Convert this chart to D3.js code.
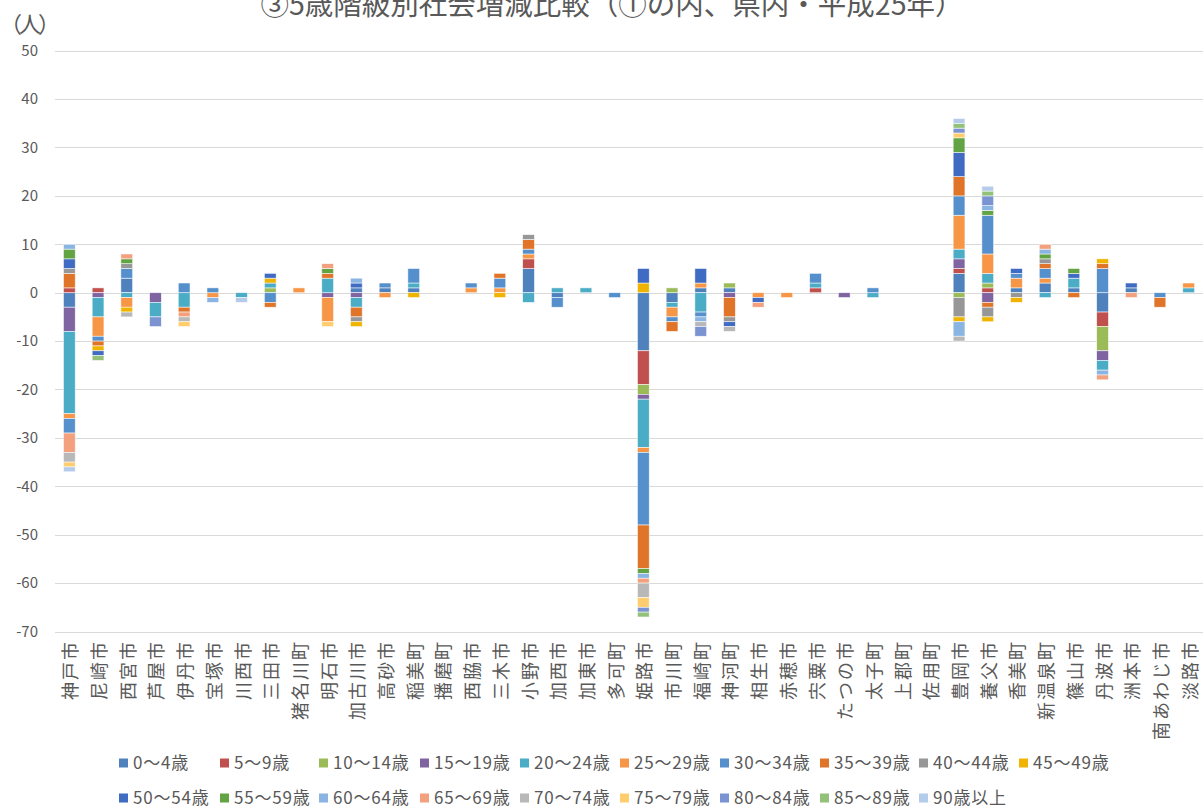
<!DOCTYPE html>
<html><head><meta charset="utf-8">
<script src="https://cdn.jsdelivr.net/npm/d3@7"></script>
<style>
html,body{margin:0;padding:0;background:#fff;}
svg text{font-family:"Noto Sans CJK JP","Noto Sans",sans-serif;fill:#595959;}
</style>
</head><body>
<svg id="chart" width="1204" height="812"></svg>
<script>
const categories = ["神戸市","尼崎市","西宮市","芦屋市","伊丹市","宝塚市","川西市","三田市","猪名川町","明石市","加古川市","高砂市","稲美町","播磨町","西脇市","三木市","小野市","加西市","加東市","多可町","姫路市","市川町","福崎町","神河町","相生市","赤穂市","宍粟市","たつの市","太子町","上郡町","佐用町","豊岡市","養父市","香美町","新温泉町","篠山市","丹波市","洲本市","南あわじ市","淡路市"];
const seriesNames = ["0～4歳","5～9歳","10～14歳","15～19歳","20～24歳","25～29歳","30～34歳","35～39歳","40～44歳","45～49歳","50～54歳","55～59歳","60～64歳","65～69歳","70～74歳","75～79歳","80～84歳","85～89歳","90歳以上"];
const seriesColors = ["#4F81BD","#C0504D","#9BBB59","#8064A2","#4BACC6","#F79646","#5590CC","#E0752A","#979797","#F0B400","#3F6BC2","#62A343","#8AB4E2","#F2A07D","#B8B8B8","#FFCD6E","#7C93D2","#93C17A","#B4CBEA"];
const yTicks = [50,40,30,20,10,0,-10,-20,-30,-40,-50,-60,-70];

const s00 = [-3,0,3,0,0,0,0,0,0,0, 1,1,1,0,0,0,5,-1,0,0, -12,-2,1,1,0,0,0,0,0,0, 0,4,0,1,2,1,-4,1,0,0];
const s05 = [1,1,0,0,0,0,0,0,0,0, 0,0,0,0,0,0,2,0,0,0, -7,0,0,0,0,0,1,0,0,0, 0,1,1,0,0,0,-3,0,0,0];
const s10 = [0,0,0,0,0,0,0,1,0,0, 0,0,0,0,0,0,0,0,0,0, -2,1,0,1,0,0,0,0,0,0, 0,-1,1,0,0,0,-5,0,0,0];
const s15 = [-5,-1,0,-2,0,0,0,0,0,-1, -1,0,0,0,0,0,0,0,0,0, -1,0,0,-1,0,0,0,-1,0,0, 0,2,-2,0,0,0,-2,0,0,0];
const s20 = [-17,-4,-1,-3,-3,0,-1,1,0,3, -2,0,1,0,0,0,-2,1,1,0, -10,-1,-4,0,0,0,1,0,-1,0, 0,2,2,0,-1,2,-2,0,0,1];
const s25 = [-1,-4,-2,0,0,-1,0,0,1,-5, 0,-1,0,0,1,1,1,0,0,0, -1,-2,1,0,-1,-1,0,0,0,0, 0,7,4,2,1,0,0,0,0,1];
const s30 = [-3,-1,2,0,2,1,0,-2,0,0, 0,1,3,0,1,2,1,-2,0,-1, -15,-1,-1,0,0,0,2,0,1,0, 0,4,8,1,2,0,5,0,-1,0];
const s35 = [3,-1,0,0,-1,0,0,-1,0,1, -2,0,0,0,0,1,2,0,0,0, -9,-2,0,-4,0,0,0,0,0,0, 0,4,-1,0,1,-1,1,0,-2,0];
const s40 = [1,0,1,0,0,0,0,0,0,0, -1,0,0,0,0,0,1,0,0,0, 0,0,0,-1,0,0,0,0,0,0, 0,-4,-2,-1,1,0,0,0,0,0];
const s45 = [0,-1,-1,0,0,0,0,1,0,0, -1,0,-1,0,0,-1,0,0,0,0, 2,0,0,0,0,0,0,0,0,0, 0,-1,-1,-1,0,0,1,0,0,0];
const s50 = [2,-1,0,0,0,0,0,1,0,0, 1,0,0,0,0,0,0,0,0,0, 3,0,3,-1,-1,0,0,0,0,0, 0,5,0,1,0,1,0,1,0,0];
const s55 = [2,0,1,0,0,0,0,0,0,1, 0,0,0,0,0,0,0,0,0,0, -1,0,0,0,0,0,0,0,0,0, 0,3,1,0,1,1,0,0,0,0];
const s60 = [1,0,0,0,0,-1,0,0,0,0, 1,0,0,0,0,0,0,0,0,0, -1,0,-1,0,0,0,0,0,0,0, 0,-3,1,0,1,0,-1,0,0,0];
const s65 = [-4,0,1,0,-1,0,0,0,0,1, 0,0,0,0,0,0,0,0,0,0, -1,0,0,0,-1,0,0,0,0,0, 0,0,0,0,1,0,-1,-1,0,0];
const s70 = [-2,0,-1,0,-1,0,0,0,0,0, 0,0,0,0,0,0,0,0,0,0, -3,0,-1,-1,0,0,0,0,0,0, 0,-1,0,0,0,0,0,0,0,0];
const s75 = [-1,0,0,0,-1,0,0,0,0,-1, 0,0,0,0,0,0,0,0,0,0, -2,0,0,0,0,0,0,0,0,0, 0,1,0,0,0,0,0,0,0,0];
const s80 = [0,0,0,-2,0,0,0,0,0,0, 0,0,0,0,0,0,0,0,0,0, -1,0,-2,0,0,0,0,0,0,0, 0,1,2,0,0,0,0,0,0,0];
const s85 = [0,-1,0,0,0,0,0,0,0,0, 0,0,0,0,0,0,0,0,0,0, -1,0,0,0,0,0,0,0,0,0, 0,1,1,0,0,0,0,0,0,0];
const s90 = [-1,0,0,0,0,0,-1,0,0,0, 0,0,0,0,0,0,0,0,0,0, 0,0,0,0,0,0,0,0,0,0, 0,1,1,0,0,0,0,0,0,0];

const seriesValues = [s00,s05,s10,s15,s20,s25,s30,s35,s40,s45,s50,s55,s60,s65,s70,s75,s80,s85,s90];

// build table for the stack
const table = categories.map((c,i)=>{
  const row = {cat:c};
  seriesNames.forEach((n,k)=>{ row[n] = seriesValues[k][i]; });
  return row;
});

const svg = d3.select("#chart");
const x = d3.scaleBand().domain(categories).range([55,1203]).padding(0);
const y = d3.scaleLinear().domain([-70,50]).range([631.5,50.7]);
const barW = x.bandwidth()*0.41;

// gridlines
svg.append("g").selectAll("line").data(yTicks).join("line")
  .attr("x1",55).attr("x2",1203)
  .attr("y1",d=>Math.round(y(d))+0.5).attr("y2",d=>Math.round(y(d))+0.5)
  .attr("stroke","#d9d9d9").attr("stroke-width",1);

// y tick labels
svg.append("g").selectAll("text").data(yTicks).join("text")
  .attr("x",38).attr("y",d=>y(d)).attr("dy","0.35em")
  .attr("text-anchor","end").attr("font-size",15).text(d=>d);

// stacked bars
const stack = d3.stack().keys(seriesNames).offset(d3.stackOffsetDiverging).order(d3.stackOrderNone);
const layers = stack(table);
svg.append("g").selectAll("g").data(layers).join("g")
  .attr("fill",(d,i)=>seriesColors[i])
  .selectAll("rect").data(d=>d.filter(p=>p[1]-p[0]!==0)).join("rect")
  .attr("x",d=>x(d.data.cat)+x.bandwidth()/2-barW/2)
  .attr("width",barW)
  .attr("y",d=>y(Math.max(d[0],d[1])))
  .attr("height",d=>Math.abs(y(d[0])-y(d[1])))
  .attr("stroke","#ffffff").attr("stroke-opacity",0.75).attr("stroke-width",0.7);

// x labels (vertical)
svg.append("g").selectAll("text").data(categories).join("text")
  .attr("transform",d=>`translate(${x(d)+x.bandwidth()/2},640) rotate(-90)`)
  .attr("text-anchor","end").attr("dominant-baseline","central")
  .attr("font-size",18).attr("letter-spacing","2px").text(d=>d);

// title
svg.append("text").attr("x",612).attr("y",15).attr("text-anchor","middle")
  .attr("font-size",28.5).text("③5歳階級別社会増減比較（①の内、県内・平成25年）");

// unit label
svg.append("text").attr("x",0).attr("y",32).attr("font-size",22).attr("letter-spacing","-3px").text("（人）");

// legend
const legendX = [119,220,319,420,520,620,720,820,919,1019];
const legend = svg.append("g").selectAll("g").data(seriesNames).join("g")
  .attr("transform",(d,i)=>`translate(${legendX[i%10]},${i<10?763:798})`);
legend.append("rect").attr("x",0).attr("y",-4.5).attr("width",9).attr("height",9)
  .attr("fill",(d,i)=>seriesColors[i]);
legend.append("text").attr("x",14).attr("y",0).attr("dy","0.35em")
  .attr("font-size",17).attr("letter-spacing","0.8px").text(d=>d);
</script>
</body></html>
